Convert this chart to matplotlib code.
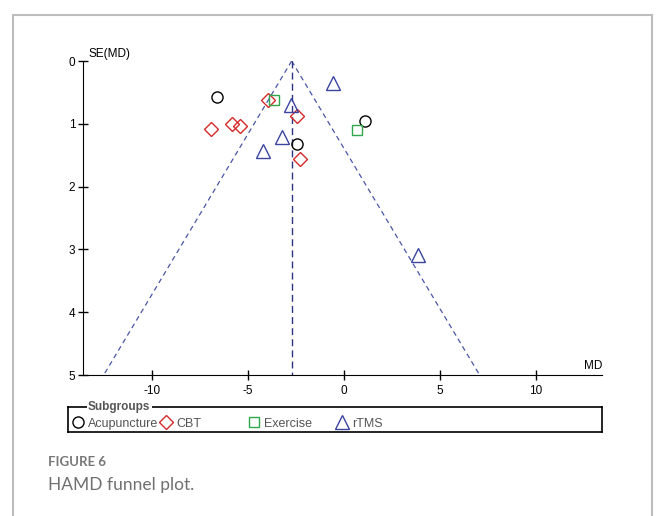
import matplotlib
matplotlib.use("Agg")
from matplotlib import pyplot as plt
from matplotlib.patches import Rectangle
import numpy as np

# data (MD, SE)
acu_md = [-6.64, -2.45, 1.09]
acu_se = [0.58, 1.32, 0.96]
cbt_md = [-6.93, -5.84, -5.42, -3.98, -2.47, -2.29]
cbt_se = [1.08, 1.00, 1.04, 0.62, 0.88, 1.56]
ex_md = [-3.67, 0.66]
ex_se = [0.62, 1.10]
rtms_md = [-0.59, -2.78, -3.25, -4.24, 3.84]
rtms_se = [0.35, 0.70, 1.21, 1.44, 3.09]
pooled_md = -2.73
se_max = 5
xticks = [-10, -5, 0, 5, 10]
yticks = [0, 1, 2, 3, 4, 5]

plt.rcParams['font.family'] = ['Liberation Sans', 'DejaVu Sans']
plt.rcParams['axes.unicode_minus'] = False

W, H = 656, 516
fig = plt.figure(figsize=(W / 100, H / 100), dpi=100)

# card frame
fig.patches.append(Rectangle((13 / W, -0.05), (652 - 13) / W, 1.05 - 15 / H,
                             transform=fig.transFigure, fill=False,
                             edgecolor='#bdbdbd', lw=1.5))

ax = fig.add_axes([83 / W, 1 - 375 / H, (602 - 83) / W, (375 - 61) / H])
ax.set_xlim(-13.61, 13.45)
ax.set_ylim(se_max, 0)
for s in ['top', 'right']:
    ax.spines[s].set_visible(False)
ax.spines['left'].set_bounds(0, se_max)
ax.set_xticks(xticks)
ax.set_yticks(yticks)
ax.tick_params(direction='inout', length=7, width=1, labelsize=8.5, pad=2)
ax.tick_params(axis='x', pad=4)

# funnel
se_line = np.array([0, se_max])
ax.plot(pooled_md - 1.96 * se_line, se_line, ls=(0, (4, 3)), color='#4a56a8', lw=0.9)
ax.plot(pooled_md + 1.96 * se_line, se_line, ls=(0, (4, 3)), color='#4a56a8', lw=0.9)
ax.plot([pooled_md, pooled_md], se_line, ls=(0, (5, 3)), color='#2c3580', lw=1)

ax.plot(acu_md, acu_se, 'o', mfc='none', mec='black', ms=8, mew=1)
ax.plot(cbt_md, cbt_se, 'D', mfc='none', mec='#d42a2a', ms=7.5, mew=1)
ax.plot(ex_md, ex_se, 's', mfc='none', mec='#2ea84a', ms=7, mew=1)
ax.plot(rtms_md, rtms_se, '^', mfc='none', mec='#3b45a0', ms=10, mew=1)

ax.annotate('SE(MD)', xy=(0, 0), xycoords=('axes fraction', 'data'),
            xytext=(4, 1), textcoords='offset points', fontsize=8.5, va='bottom')
ax.annotate('MD', xy=(1, se_max), xycoords=('axes fraction', 'data'),
            xytext=(0, 2), textcoords='offset points', fontsize=8.5,
            ha='right', va='bottom')

# legend box
lg = fig.add_axes([68 / W, 1 - 432 / H, (602 - 68) / W, (432 - 407) / H])
lg.set_xlim(68, 602)
lg.set_ylim(432, 407)
lg.set_xticks([])
lg.set_yticks([])
for s in lg.spines.values():
    s.set_linewidth(1.2)
lg.text(88, 407, 'Subgroups', fontsize=8.5, fontweight='bold', color='#555555',
        va='center', ha='left',
        bbox=dict(facecolor='white', edgecolor='none', pad=1))
items = [('o', 'black', 78, 'Acupuncture', 8),
         ('D', '#d42a2a', 166, 'CBT', 7.5),
         ('s', '#2ea84a', 254, 'Exercise', 7),
         ('^', '#3b45a0', 342, 'rTMS', 10)]
for mk, col, x, lab, ms in items:
    lg.plot([x], [421.5], mk, mfc='none', mec=col, ms=ms, mew=1, clip_on=False)
    lg.text(x + 10, 423.5, lab, fontsize=9, color='#555555', va='center')

fig.text(48 / W, 1 - 462 / H, 'FIGURE 6', fontsize=9.5, fontweight='bold',
         color='#777777', family=['Lato', 'DejaVu Sans'], va='center')
fig.text(48 / W, 1 - 485 / H, 'HAMD funnel plot.', fontsize=12.5,
         color='#707070', family=['Lato', 'DejaVu Sans'], va='center')

fig.savefig('out.png', dpi=100)
